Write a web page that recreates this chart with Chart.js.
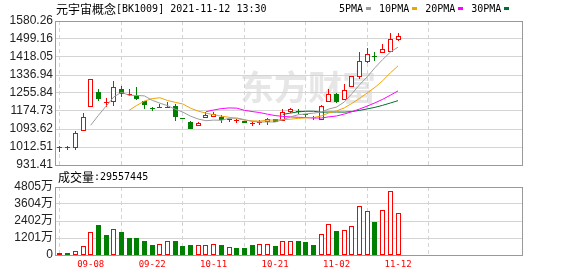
<!DOCTYPE html>
<html>
<head>
<meta charset="utf-8">
<script src="https://cdn.jsdelivr.net/npm/chart.js@4.4.0/dist/chart.umd.min.js"></script>
<style>
  html, body { margin: 0; padding: 0; background: #fff; }
  #wrap { position: relative; width: 578px; height: 276px; overflow: hidden; }
  canvas { position: absolute; left: 0; }
  #kline { top: 0; }
  #vol { top: 166px; }
</style>
</head>
<body>
<div id="wrap">
  <canvas id="kline" width="578" height="178"></canvas>
  <canvas id="vol" width="578" height="110"></canvas>
</div>
<script>
// 元宇宙概念 日K + 成交量
const title = "元宇宙概念[BK1009] 2021-11-12 13:30";
const lastVolume = "29557445";

const dates = ["09-02","09-03","09-06","09-07","09-08","09-09","09-10","09-13","09-14","09-15",
  "09-16","09-17","09-22","09-23","09-24","09-27","09-28","09-29","09-30","10-08",
  "10-11","10-12","10-13","10-14","10-15","10-18","10-19","10-20","10-21","10-22",
  "10-25","10-26","10-27","10-28","10-29","11-01","11-02","11-03","11-04","11-05",
  "11-08","11-09","11-10","11-11","11-12"];

const open = [1006,1006,1009,1083,1191,1259,1213,1214,1272,1246,
  1242,1220,1184,1187,1186,1198,1142,1126,1107,1143,
  1149,1149,1134,1129,1130,1118,1121,1124,1137,1131,
  1172,1172,1157,1145,1134,1215,1251,1224,1281,1327,
  1397,1420,1435,1442,1495];
const close = [1008,1007,1074,1146,1318,1230,1214,1282,1251,1249,
  1228,1204,1183,1186,1194,1147,1138,1092,1121,1157,
  1161,1134,1135,1130,1120,1119,1122,1137,1127,1172,
  1182,1171,1156,1144,1197,1251,1215,1269,1332,1399,
  1430,1419,1453,1498,1513];
const high = [1017,1018,1085,1167,1318,1274,1232,1310,1287,1274,
  1283,1222,1194,1206,1215,1205,1142,1131,1124,1168,
  1170,1156,1140,1137,1131,1126,1134,1144,1137,1182,
  1189,1182,1161,1152,1201,1272,1254,1295,1332,1442,
  1457,1439,1477,1525,1525];
const low = [988,999,999,1083,1191,1221,1194,1196,1239,1244,
  1223,1185,1176,1186,1186,1130,1137,1092,1105,1143,
  1149,1122,1127,1119,1119,1107,1112,1112,1127,1130,
  1164,1161,1146,1134,1134,1215,1209,1224,1281,1319,
  1390,1401,1435,1442,1490];

// 成交量, 万
const volume = [141,160,283,636,1625,2141,1434,1837,1646,1222,
  1222,1010,728,777,989,989,657,707,707,707,
  777,707,565,495,495,707,777,777,636,989,
  989,989,918,707,1484,2190,1696,1767,2049,3462,
  3109,2332,3180,4522,2956];

// 均线, 从 maStart 那天开始
const ma5 = [1110.6,1155.2,1196.4,1238,1259,1245.2,1244.8,1242.8,1223,1210,
  1199,1182.8,1169.6,1151.4,1138.4,1131,1133.8,1133,1141.6,1143.4,
  1136,1127.6,1125.2,1125.6,1125,1135.4,1148,1157.8,1161.6,1165,
  1170,1183.8,1192.6,1215.2,1252.8,1293.2,1329,1369.8,1406.6,1439.8,1462.6];
const ma10 = [1177.9,1200,1219.6,1230.5,1234.5,1222.1,1213.8,1206.2,1187.2,1174.2,
  1165,1158.3,1151.3,1146.5,1140.9,1133.5,1130.7,1129.1,1133.6,1134.2,
  1135.7,1137.8,1141.5,1143.6,1145,1152.7,1165.9,1175.2,1188.4,1208.9,
  1231.6,1256.4,1281.2,1310.9,1346.3,1377.9];
const ma20 = [1171.5,1179.2,1185.5,1188.5,1187.7,1177.8,1172.3,1167.7,1160.4,1154.2,
  1150.4,1148.1,1146.4,1145.1,1143,1143.1,1148.3,1152.2,1161,1171.6,
  1183.7,1197.1,1211.4,1227.3,1245.7,1265.3];
const ma30 = [1159.5,1165.4,1170.8,1173.5,1173.5,1169.4,1170.1,1170.2,1169.7,1172.4,
  1177.4,1184.2,1191.3,1200.3,1210.7,1221.4];
const maStart = [4, 9, 19, 29];
const maNames = ["5PMA", "10PMA", "20PMA", "30PMA"];
const maColors = ["#9c9c9c", "#f2a300", "#ff00ff", "#00702e"];

const priceTicks = ["931.41","1012.51","1093.62","1174.73","1255.84","1336.94","1418.05","1499.16","1580.26"];
const volTicks = [0, 1201, 2402, 3604, 4805];
const volTickLabels = ["0", "1201万", "2402万", "3604万", "4805万"];
const dateTicks = ["09-08","09-22","10-11","10-21","11-02","11-12"];

const RED = "#ff0000";
const GREEN = "#008000";
const GRID = "#d4d4d4";
const FRAME = "#999999";

const up = close.map((c, i) => c >= open[i]);
const volUp = close.map((c, i) => i === 0 || c >= close[i - 1]);
const tickIdx = dateTicks.map(d => dates.indexOf(d));

function drawMixed(ctx, text, x, y, color) {
  ctx.save();
  ctx.fillStyle = color;
  ctx.textBaseline = "middle";
  ctx.textAlign = "left";
  text.split(/([\u3000-\u9fff\uff00-\uffef]+)/).forEach(part => {
    if (!part) return;
    const cjk = /[\u3000-\u9fff\uff00-\uffef]/.test(part);
    ctx.font = cjk ? "12px 'Noto Sans CJK SC'" : "10px 'DejaVu Sans Mono'";
    ctx.fillText(part, x, y);
    x += ctx.measureText(part).width;
  });
  ctx.restore();
  return x;
}

const framePlugin = {
  id: "frame",
  beforeDatasetsDraw(chart) {
    const a = chart.chartArea, ctx = chart.ctx;
    ctx.save();
    ctx.strokeStyle = FRAME;
    ctx.lineWidth = 1;
    ctx.strokeRect(Math.round(a.left) + 0.5, Math.round(a.top) + 0.5,
      Math.round(a.right - a.left), Math.round(a.bottom - a.top));
    ctx.restore();
  }
};

// 让柱子落在整像素上, 线条清楚一些
const snapPlugin = {
  id: "snap",
  afterDatasetsUpdate(chart) {
    chart.getSortedVisibleDatasetMetas().forEach(meta => {
      if (meta.type !== "bar") return;
      meta.data.forEach(el => {
        el.x = Math.floor(el.x) + 0.5;
        let y = Math.round(el.y), base = Math.round(el.base);
        if (Math.abs(y - base) < 1) base = y + 1;
        el.y = y;
        el.base = base;
      });
    });
  }
};

const xAxis = (showLabels) => ({
  type: "linear",
  min: -0.65,
  max: 60.14,
  offset: false,
  afterBuildTicks: s => { s.ticks = tickIdx.map(v => ({ value: v })); },
  afterFit: s => { s.height = showLabels ? 21 : 0; },
  grid: { color: GRID, drawTicks: false },
  border: { display: false, dash: [4, 3] },
  ticks: {
    display: showLabels,
    autoSkip: false,
    maxRotation: 0,
    padding: 4,
    color: RED,
    font: { family: "'DejaVu Sans Mono'", size: 9 },
    callback: v => dates[v]
  }
});

const yFont = { family: "'Liberation Sans', 'Noto Sans CJK SC'", size: 12 };

new Chart(document.getElementById("kline"), {
  type: "bar",
  data: {
    datasets: [
      {
        label: "wick",
        data: dates.map((d, i) => ({ x: i, y: [low[i], high[i]] })),
        backgroundColor: up.map(u => u ? RED : GREEN),
        borderWidth: 0,
        barThickness: 1,
        inflateAmount: 0,
        grouped: false,
        order: 3
      },
      {
        label: "body",
        data: dates.map((d, i) => ({ x: i, y: [open[i], close[i]] })),
        backgroundColor: up.map(u => u ? "#ffffff" : GREEN),
        borderColor: up.map(u => u ? RED : GREEN),
        borderWidth: 1,
        borderSkipped: false,
        barThickness: 5,
        minBarLength: 1,
        inflateAmount: 0,
        grouped: false,
        order: 2
      },
      ...[ma5, ma10, ma20, ma30].map((arr, k) => ({
        type: "line",
        label: maNames[k],
        data: arr.map((v, j) => ({ x: j + maStart[k], y: v })),
        borderColor: maColors[k],
        borderWidth: 1,
        pointRadius: 0,
        tension: 0,
        order: 1
      }))
    ]
  },
  options: {
    responsive: false,
    animation: false,
    devicePixelRatio: 1,
    events: [],
    layout: { padding: { top: 21, bottom: 13, left: 0, right: 56 } },
    plugins: { legend: { display: false }, tooltip: { enabled: false } },
    scales: {
      x: xAxis(false),
      y: {
        min: 931.41,
        max: 1580.26,
        afterBuildTicks: s => { s.ticks = priceTicks.map(t => ({ value: parseFloat(t) })); },
        afterFit: s => { s.width = 55; },
        grid: { color: GRID, drawTicks: false },
        border: { display: false },
        ticks: { autoSkip: false, padding: 2, color: "#222", font: yFont, callback: (v, i) => priceTicks[i] }
      }
    }
  },
  plugins: [framePlugin, snapPlugin, {
    id: "header",
    beforeDraw(chart) {
      const ctx = chart.ctx;
      ctx.save();
      ctx.fillStyle = "#e6e6e6";
      ctx.font = "bold 34px 'Noto Sans CJK SC'";
      ctx.textBaseline = "middle";
      ctx.fillText("东方财富", 240, 87);
      ctx.restore();
    },
    afterDraw(chart) {
      const ctx = chart.ctx;
      drawMixed(ctx, title, 56, 9, "#000");
      let lx = 339;
      maNames.forEach((n, i) => {
        lx = drawMixed(ctx, n, lx, 9, "#000");
        ctx.fillStyle = maColors[i];
        ctx.fillRect(Math.round(lx) + 3, 7, 5, 3);
        lx += 16;
      });
    }
  }]
});

new Chart(document.getElementById("vol"), {
  type: "bar",
  data: {
    datasets: [{
      label: "成交量",
      data: dates.map((d, i) => ({ x: i, y: volume[i] })),
      backgroundColor: volUp.map(u => u ? "#ffffff" : GREEN),
      borderColor: volUp.map(u => u ? RED : GREEN),
      borderWidth: 1,
      borderSkipped: false,
      barThickness: 5,
      inflateAmount: 0,
      grouped: false
    }]
  },
  options: {
    responsive: false,
    animation: false,
    devicePixelRatio: 1,
    events: [],
    layout: { padding: { top: 21, bottom: 0, left: 0, right: 56 } },
    plugins: { legend: { display: false }, tooltip: { enabled: false } },
    scales: {
      x: xAxis(true),
      y: {
        min: 0,
        max: 4805,
        afterBuildTicks: s => { s.ticks = volTicks.map(v => ({ value: v })); },
        afterFit: s => { s.width = 55; },
        grid: { color: GRID, drawTicks: false },
        border: { display: false },
        ticks: { autoSkip: false, padding: 2, color: "#222", font: yFont, callback: (v, i) => volTickLabels[i] }
      }
    }
  },
  plugins: [framePlugin, snapPlugin, {
    id: "volHeader",
    afterDraw(chart) {
      drawMixed(chart.ctx, "成交量:" + lastVolume, 58, 11, "#000");
    }
  }]
});
</script>
</body>
</html>
